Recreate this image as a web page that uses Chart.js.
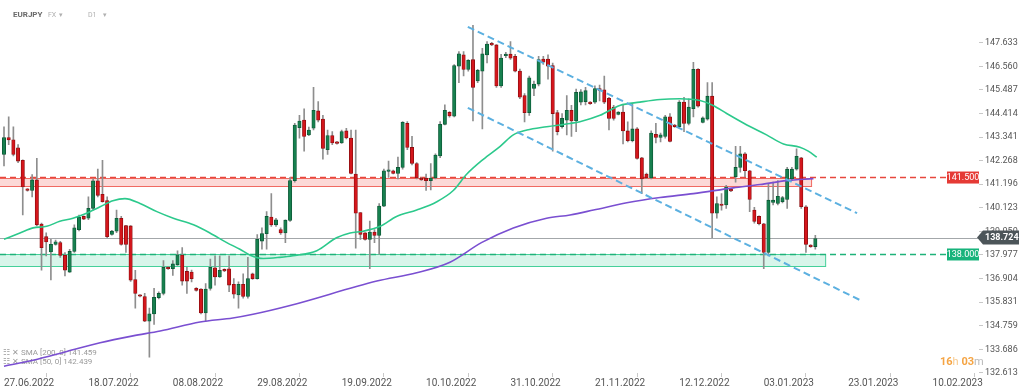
<!DOCTYPE html>
<html>
<head>
<meta charset="utf-8">
<script src="https://cdn.jsdelivr.net/npm/chart.js@4.4.0/dist/chart.umd.min.js"></script>
<style>
  html, body { margin: 0; padding: 0; background: #fff; }
</style>
</head>
<body>
<canvas id="chart" width="1024" height="391"></canvas>
<script>
// EURJPY daily candles, index 0 = 27.06.2022 (one candle per slot, incl. short sunday candles)
const opens = [142.55,143.32,143.22,142.85,142.28,140.99,140.91,141.39,139.38,138.81,138.12,138.46,138.54,137.96,137.20,138.14,139.13,139.73,139.65,140.10,
  141.35,140.74,140.45,138.91,139.06,139.65,139.31,139.30,136.86,136.16,136.09,134.97,135.30,136.04,136.23,137.42,137.35,137.53,137.97,137.23,
  137.20,136.46,136.43,135.34,136.46,137.39,136.98,137.32,137.35,136.64,136.16,136.64,136.09,137.12,136.90,138.61,138.95,139.70,139.35,139.13,
  138.98,139.55,141.36,143.77,144.11,143.44,143.74,144.53,144.16,142.77,143.41,143.12,143.07,143.62,143.30,141.66,139.91,138.98,138.69,139.02,
  138.87,140.20,141.78,141.81,141.69,141.96,143.96,142.87,142.14,141.47,141.47,141.36,141.48,142.48,143.92,144.46,144.29,146.56,147.08,146.42,
  146.86,145.89,146.34,147.08,147.60,147.53,145.67,147.04,147.11,147.01,146.34,145.23,144.45,145.55,145.75,146.89,146.89,146.59,144.45,143.81,
  144.11,144.56,144.07,144.93,144.95,144.93,144.93,145.55,145.49,145.10,144.70,144.37,144.48,143.62,143.18,143.71,142.40,141.66,141.48,143.47,
  143.32,143.37,144.26,143.89,143.81,144.93,143.96,144.63,146.42,144.01,144.16,145.20,139.88,140.29,140.25,140.95,141.54,141.96,142.58,141.81,
  140.02,139.73,139.40,138.09,140.37,140.32,140.40,140.50,141.44,141.88,142.40,140.17,138.42,138.36];
const highs = [143.81,144.26,143.81,143.00,142.30,141.00,141.63,142.37,139.43,138.99,138.69,138.65,138.60,138.09,138.24,139.35,139.79,139.76,140.62,141.44,
  141.88,142.28,140.62,139.10,140.02,139.73,139.33,139.32,137.28,136.18,136.23,135.56,136.46,136.30,137.72,137.45,137.72,138.17,138.31,137.42,
  137.29,136.50,136.45,136.68,137.79,137.94,137.94,137.35,137.94,136.90,136.76,137.12,137.87,137.15,138.91,139.21,139.95,140.77,139.65,139.21,
  139.58,141.51,143.96,144.33,144.63,143.80,145.60,144.96,144.33,143.66,143.59,143.15,143.66,143.74,143.66,143.66,139.91,139.00,139.52,139.13,
  140.32,141.88,142.25,141.84,142.43,144.04,144.04,143.37,142.18,141.50,141.66,142.14,142.58,144.04,144.81,144.50,146.64,147.23,147.23,146.86,
  148.42,146.42,147.38,147.68,147.65,147.55,147.10,147.20,147.68,147.10,146.43,145.32,146.12,145.89,147.01,147.01,147.08,146.71,144.56,144.41,
  145.23,144.78,145.52,145.50,145.60,144.95,145.67,145.70,146.12,145.15,144.78,144.50,144.78,144.03,144.86,143.77,142.42,141.70,143.62,143.96,
  143.52,144.33,144.41,143.92,145.00,145.15,145.08,146.74,146.45,144.26,145.82,145.82,140.62,140.77,141.14,140.98,142.92,142.92,142.63,141.83,
  140.14,139.76,139.42,141.21,141.29,141.36,140.65,141.96,141.96,142.80,142.42,140.23,138.45,138.87];
const lows = [142.03,143.00,142.48,142.18,139.80,140.88,140.62,139.30,137.29,137.94,136.84,138.42,137.87,137.02,137.18,138.09,139.07,139.58,139.58,140.02,
  140.62,140.38,138.76,138.88,138.99,138.42,138.09,136.78,135.56,136.07,134.95,133.33,134.82,135.98,136.16,137.32,137.05,137.50,136.61,136.23,
  136.75,136.33,135.30,134.97,136.38,136.61,136.96,137.22,136.31,136.01,135.56,136.01,136.01,136.87,136.88,138.24,138.24,139.28,139.28,138.91,
  138.54,139.50,141.29,143.29,142.70,143.40,143.66,144.03,142.33,142.55,143.00,143.02,143.05,143.26,141.66,138.29,138.69,138.65,137.35,138.54,
  138.02,140.17,141.51,141.66,141.44,141.88,142.77,142.07,141.44,141.37,140.91,140.94,141.44,142.40,143.89,144.25,144.26,145.82,146.12,146.34,
  144.07,145.82,143.71,146.71,147.50,145.60,145.60,146.95,146.87,146.30,145.09,144.03,144.33,145.22,145.67,146.65,145.97,142.70,143.44,143.74,
  143.44,143.37,143.59,144.80,144.80,144.82,144.87,144.99,144.86,143.66,144.11,144.35,143.03,143.12,143.12,142.33,140.77,141.45,141.44,143.07,
  143.12,143.29,143.12,143.78,143.74,143.59,143.89,144.26,144.70,143.98,144.11,138.76,139.65,140.02,140.10,140.86,141.29,141.74,141.54,139.95,
  139.43,139.35,137.35,137.94,140.25,140.25,140.35,140.10,141.36,141.84,140.10,138.09,138.32,138.24];
const closes = [143.32,143.21,142.55,142.25,141.07,140.91,141.39,139.35,138.31,138.57,138.46,138.58,137.96,137.29,138.14,139.21,139.70,139.61,140.10,141.35,
  140.69,140.40,138.81,139.06,139.65,138.46,138.46,136.83,136.23,136.10,134.97,135.30,136.05,136.23,137.42,137.35,137.57,137.99,136.79,136.79,
  136.90,136.37,135.34,136.43,137.42,136.98,137.28,137.25,136.61,136.19,136.64,136.09,136.90,136.90,138.69,138.95,139.73,139.35,139.58,138.98,
  139.56,141.36,143.89,144.07,143.37,143.66,144.56,144.11,142.82,143.41,143.07,143.05,143.59,143.30,141.69,139.88,138.91,138.69,139.02,138.87,
  140.20,141.81,141.84,141.69,141.96,144.01,142.87,142.14,141.48,141.39,141.36,141.48,142.52,143.92,144.56,144.30,146.59,147.13,146.42,146.83,
  145.60,146.38,147.13,147.57,147.53,145.67,146.93,147.11,146.93,146.34,145.15,144.45,146.04,145.75,146.86,146.75,146.56,144.41,143.59,144.19,
  144.56,144.07,145.37,145.40,145.45,144.86,145.55,145.46,144.93,144.19,144.19,144.48,143.62,143.18,143.71,142.37,141.44,141.48,143.52,143.32,
  143.44,144.26,143.14,143.81,144.93,143.96,144.70,146.42,144.75,144.21,145.20,139.88,140.32,140.23,141.07,140.89,141.96,142.58,141.81,140.50,
  139.50,139.40,138.09,140.47,140.47,140.65,140.59,141.88,141.88,142.47,140.17,138.46,138.36,138.72];

// moving averages (candle index, price)
const sma50Idx = [0,3.4,6.2,9.1,11.9,14.7,17.6,20.5,23.2,25.8,29,32.6,36.1,40.4,43.9,47.5,50.3,52.5,55.3,58.8,61.6,66.7,70.9,73.8,76.6,80.2,83.7,88,92.3,95.8,98.7,102.2,105.8,108.6,111.5,115.7,120.7,122.8,127.1,131.3,135.6,139.9,144.1,148.4,151.2,154.1,158.4,162.6,166.2,169.7,171.5,173.3];
const sma50Val = [138.69,138.98,139.21,139.28,139.51,139.65,139.88,140.17,140.44,140.54,140.32,139.95,139.65,139.35,138.98,138.54,138.24,137.97,137.82,137.87,137.94,138.17,138.76,138.98,139.06,139.28,139.73,140.02,140.40,140.91,141.66,142.33,142.92,143.44,143.66,143.81,143.96,144.04,144.33,144.78,144.93,145.05,145.08,145.00,144.78,144.41,143.89,143.44,143.03,142.88,142.70,142.43];
const sma200Idx = [0,6.2,13.4,20.5,27.5,33.3,41.8,48.8,53.1,61,79.5,88,95.1,101.8,108.6,115.7,120.7,125.7,132.8,139.9,147,155.5,161.2,166.9,172.6];
const sma200Val = [132.92,133.19,133.59,133.99,134.30,134.52,134.93,135.11,135.28,135.68,136.79,137.17,137.65,138.54,139.21,139.65,139.80,140.02,140.35,140.59,140.77,141.03,141.18,141.36,141.45];

// falling channel
const upperIdx = [98.9, 181.9];
const upperVal = [148.35, 139.88];
const lowerIdx = [98.9, 182.5];
const lowerVal = [144.67, 135.93];

// levels
const resistance = 141.5;
const resistanceZone = [141.10, 141.46];
const resistanceEnd = 172.2;
const support = 138.0;
const supportZone = [137.45, 138.0];
const supportEnd = 175.2;
const lastPrice = 138.724;

const yTicks = [132.613,133.686,134.759,135.831,136.904,137.977,139.050,140.123,141.196,142.268,143.341,144.414,145.487,146.560,147.633];
const dateTicks = [0,18,36,54,72,90,108,126,144,162,180,198];
const dateLabels = ['27.06.2022','18.07.2022','08.08.2022','29.08.2022','19.09.2022','10.10.2022','31.10.2022','21.11.2022','12.12.2022','03.01.2023','23.01.2023','10.02.2023'];

const FONT = 'Roboto, "Liberation Sans", sans-serif';
const up = opens.map((o, i) => closes[i] >= o);

const pts = (xs, ys) => xs.map((x, i) => ({x: x, y: ys[i]}));

// zones, dashed levels and the little legend go under the candles
const under = {
  id: 'under',
  beforeDatasetsDraw(chart) {
    const {ctx, chartArea, scales: {x, y}} = chart;
    ctx.save();
    const left = chartArea.left;

    // red zone
    let y0 = y.getPixelForValue(resistanceZone[1]), y1 = y.getPixelForValue(resistanceZone[0]);
    let xr = x.getPixelForValue(resistanceEnd);
    ctx.fillStyle = 'rgba(242,80,72,0.22)';
    ctx.fillRect(left, y0, xr - left, y1 - y0);
    ctx.strokeStyle = '#f06a62';
    ctx.lineWidth = 1;
    ctx.strokeRect(left - 1, Math.round(y0) + 0.5, xr - left + 1, Math.round(y1 - y0));

    // green zone
    y0 = y.getPixelForValue(supportZone[1]); y1 = y.getPixelForValue(supportZone[0]);
    xr = x.getPixelForValue(supportEnd);
    ctx.fillStyle = 'rgba(40,200,140,0.18)';
    ctx.fillRect(left, y0, xr - left, y1 - y0);
    ctx.strokeStyle = '#45d09a';
    ctx.strokeRect(left - 1, Math.round(y0) + 0.5, xr - left + 1, Math.round(y1 - y0));

    // dashed levels
    ctx.setLineDash([6, 4]);
    ctx.lineWidth = 1.5;
    let yy = y.getPixelForValue(resistance);
    ctx.strokeStyle = '#e8473d';
    ctx.beginPath(); ctx.moveTo(left, yy); ctx.lineTo(946, yy); ctx.stroke();
    yy = y.getPixelForValue(support);
    ctx.strokeStyle = '#1fb27a';
    ctx.beginPath(); ctx.moveTo(left, yy); ctx.lineTo(946, yy); ctx.stroke();
    ctx.setLineDash([]);

    // last price line
    yy = Math.round(y.getPixelForValue(lastPrice)) - 0.5;
    ctx.strokeStyle = '#a3a7aa';
    ctx.lineWidth = 1;
    ctx.beginPath(); ctx.moveTo(left, yy); ctx.lineTo(978, yy); ctx.stroke();

    // indicator legend
    ctx.font = '8px ' + FONT;
    ctx.fillStyle = '#9a9a9a';
    ctx.textBaseline = 'middle';
    ctx.fillText('\u2637 \u2715', 3, 353);
    ctx.fillText('\u2637 \u2715', 3, 362);
    ctx.fillText('SMA [200, 0] 141.459', 21, 353);
    ctx.fillText('SMA [50, 0] 142.439', 21, 362);
    ctx.restore();
  }
};

// price tags and header text on top
const tags = {
  id: 'tags',
  afterDraw(chart) {
    const {ctx, scales: {y}} = chart;
    ctx.save();
    ctx.textBaseline = 'middle';

    const tag = (val, color) => {
      const yy = y.getPixelForValue(val);
      ctx.fillStyle = color;
      ctx.fillRect(947, yy - 6, 32, 12);
      ctx.fillStyle = '#fff';
      ctx.font = '9px ' + FONT;
      ctx.textAlign = 'center';
      ctx.fillText(val.toFixed(3), 963, yy + 0.5);
    };
    tag(resistance, '#e53a35');
    tag(support, '#17b37b');

    // last price tag
    const yl = y.getPixelForValue(lastPrice) - 1;
    ctx.fillStyle = '#4c5559';
    ctx.beginPath();
    ctx.moveTo(977, yl);
    ctx.lineTo(983, yl - 7);
    ctx.lineTo(1019, yl - 7);
    ctx.lineTo(1019, yl + 7);
    ctx.lineTo(983, yl + 7);
    ctx.closePath();
    ctx.fill();
    ctx.fillStyle = '#fff';
    ctx.font = 'bold 9px ' + FONT;
    ctx.textAlign = 'left';
    ctx.fillText(lastPrice.toFixed(3), 985, yl + 0.5);

    // header
    ctx.font = 'bold 8px ' + FONT;
    ctx.fillStyle = '#6a6a6a';
    ctx.fillText('EURJPY', 13, 15);
    ctx.font = '7px ' + FONT;
    ctx.fillStyle = '#b0b0b0';
    ctx.fillText('FX', 48, 15);
    ctx.fillText('\u25BE', 59, 15);
    ctx.fillText('D1', 88, 15);
    ctx.fillText('\u25BE', 103, 15);

    // candle countdown
    let cx = 940;
    const parts = [['16', 'bold 11px', '#f5a443'], ['h', '11px', '#f8c98c'], [' 03', 'bold 11px', '#f5a443'], ['m', '11px', '#b8b8b8']];
    parts.forEach(p => {
      ctx.font = p[1] + ' ' + FONT;
      ctx.fillStyle = p[2];
      ctx.fillText(p[0], cx, 362);
      cx += ctx.measureText(p[0]).width;
    });
    ctx.restore();
  }
};

const ctx = document.getElementById('chart').getContext('2d');
const chart = new Chart(ctx, {
  type: 'bar',
  data: {
    datasets: [
      {
        type: 'line', label: 'upper', data: pts(upperIdx, upperVal),
        borderColor: '#5cb0e0', borderWidth: 2, borderDash: [7, 4], pointRadius: 0, order: 0
      },
      {
        type: 'line', label: 'lower', data: pts(lowerIdx, lowerVal),
        borderColor: '#5cb0e0', borderWidth: 2, borderDash: [7, 4], pointRadius: 0, order: 0
      },
      {
        type: 'line', label: 'SMA 50', data: pts(sma50Idx, sma50Val),
        borderColor: '#2cc98c', borderWidth: 1.6, pointRadius: 0, cubicInterpolationMode: 'monotone', order: 1
      },
      {
        type: 'line', label: 'SMA 200', data: pts(sma200Idx, sma200Val),
        borderColor: '#7a4fd1', borderWidth: 1.6, pointRadius: 0, cubicInterpolationMode: 'monotone', order: 1
      },
      {
        label: 'body',
        data: opens.map((o, i) => ({x: i, y: [o, closes[i]]})),
        backgroundColor: up.map(u => u ? '#17804f' : '#d4161c'),
        borderColor: up.map(u => u ? '#0b5634' : '#8c0c0f'),
        borderWidth: 0.8,
        borderSkipped: false,
        barThickness: 3.4,
        minBarLength: 1.5,
        grouped: false,
        order: 2
      },
      {
        label: 'wick',
        data: lows.map((l, i) => ({x: i, y: [l, highs[i]]})),
        backgroundColor: '#8e8e8e',
        borderWidth: 0,
        barThickness: 1,
        grouped: false,
        order: 3
      }
    ]
  },
  options: {
    responsive: false,
    animation: false,
    devicePixelRatio: 1,
    layout: { padding: 0 },
    plugins: { legend: { display: false }, tooltip: { enabled: false } },
    scales: {
      x: {
        type: 'linear',
        min: -0.853,
        max: 207.9,
        offset: false,
        border: { display: false },
        grid: { drawOnChartArea: false, drawTicks: true, tickLength: 4, color: '#c8c8c8' },
        afterBuildTicks: s => { s.ticks = dateTicks.map(v => ({value: v})); },
        afterFit: s => { s.height = 18; },
        ticks: {
          align: 'start',
          padding: 0,
          maxRotation: 0,
          autoSkip: false,
          color: '#555',
          font: { family: FONT, size: 10 },
          callback: v => dateLabels[dateTicks.indexOf(v)]
        }
      },
      y: {
        type: 'linear',
        position: 'right',
        min: 132.61,
        max: 149.238,
        border: { display: false },
        grid: { drawOnChartArea: false, drawTicks: true, tickLength: 4, color: '#c8c8c8' },
        afterBuildTicks: s => { s.ticks = yTicks.map(v => ({value: v})); },
        afterFit: s => { s.width = 45; },
        ticks: {
          padding: 2,
          color: '#555',
          font: { family: FONT, size: 9 },
          callback: v => v.toFixed(3)
        }
      }
    }
  },
  plugins: [under, tags]
});
</script>
</body>
</html>
